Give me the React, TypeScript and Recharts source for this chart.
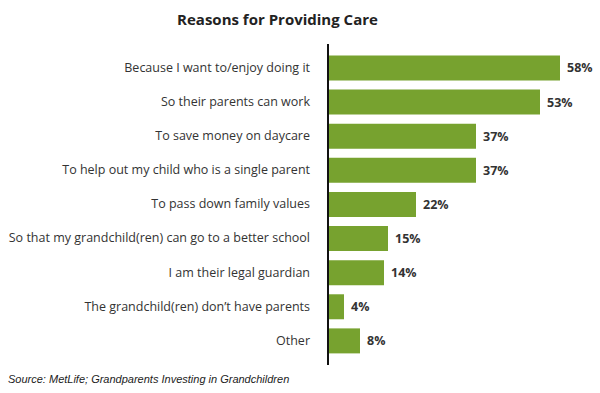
import React from 'react';
import { BarChart, Bar, XAxis, YAxis, LabelList } from 'recharts';

const reasons = [
  'Because I want to/enjoy doing it',
  'So their parents can work',
  'To save money on daycare',
  'To help out my child who is a single parent',
  'To pass down family values',
  'So that my grandchild(ren) can go to a better school',
  'I am their legal guardian',
  'The grandchild(ren) don\u2019t have parents',
  'Other',
];
const shares = [58, 53, 37, 37, 22, 15, 14, 4, 8];

const data = reasons.map((reason, i) => ({ reason, share: shares[i] }));

// single-line tick so long labels don't wrap
const ReasonTick = (props: any) => {
  const { y, payload } = props;
  return (
    <text
      x={310}
      y={y}
      dy="0.35em"
      textAnchor="end"
      fill="#333"
      fontSize={12.5}
      fontFamily='"Open Sans", sans-serif'
    >
      {payload.value}
    </text>
  );
};

const App: React.FC = () => {
  return (
    <div style={{ position: 'absolute', left: 0, top: 0, width: 600, height: 393, background: '#fff' }}>
      <div
        style={{
          position: 'absolute',
          top: 9,
          left: 0,
          width: 555,
          textAlign: 'center',
          fontFamily: '"Open Sans", sans-serif',
          fontWeight: 700,
          fontSize: 15,
          color: '#222',
        }}
      >
        Reasons for Providing Care
      </div>
      <BarChart
        width={600}
        height={393}
        data={data}
        layout="vertical"
        margin={{ top: 44, right: 0, bottom: 28, left: 0 }}
      >
        <XAxis type="number" domain={[0, 68]} hide />
        <YAxis
          type="category"
          dataKey="reason"
          width={328}
          axisLine={{ stroke: '#111', strokeWidth: 2 }}
          tickLine={false}
          padding={{ top: 6.5, bottom: 7.5 }}
          tick={<ReasonTick />}
          interval={0}
        />
        <Bar dataKey="share" fill="#77a22f" barSize={25} isAnimationActive={false}>
          <LabelList
            dataKey="share"
            position="right"
            offset={7}
            formatter={(v: number) => `${v}%`}
            style={{ fill: '#333', fontSize: 12.5, fontWeight: 700, fontFamily: '"Open Sans", sans-serif' }}
          />
        </Bar>
      </BarChart>
      <div
        style={{
          position: 'absolute',
          top: 373,
          left: 8,
          fontFamily: '"Liberation Sans", Arial, sans-serif',
          fontStyle: 'italic',
          fontSize: 11,
          color: '#222',
        }}
      >
        Source: MetLife; Grandparents Investing in Grandchildren
      </div>
    </div>
  );
};

export default App;
